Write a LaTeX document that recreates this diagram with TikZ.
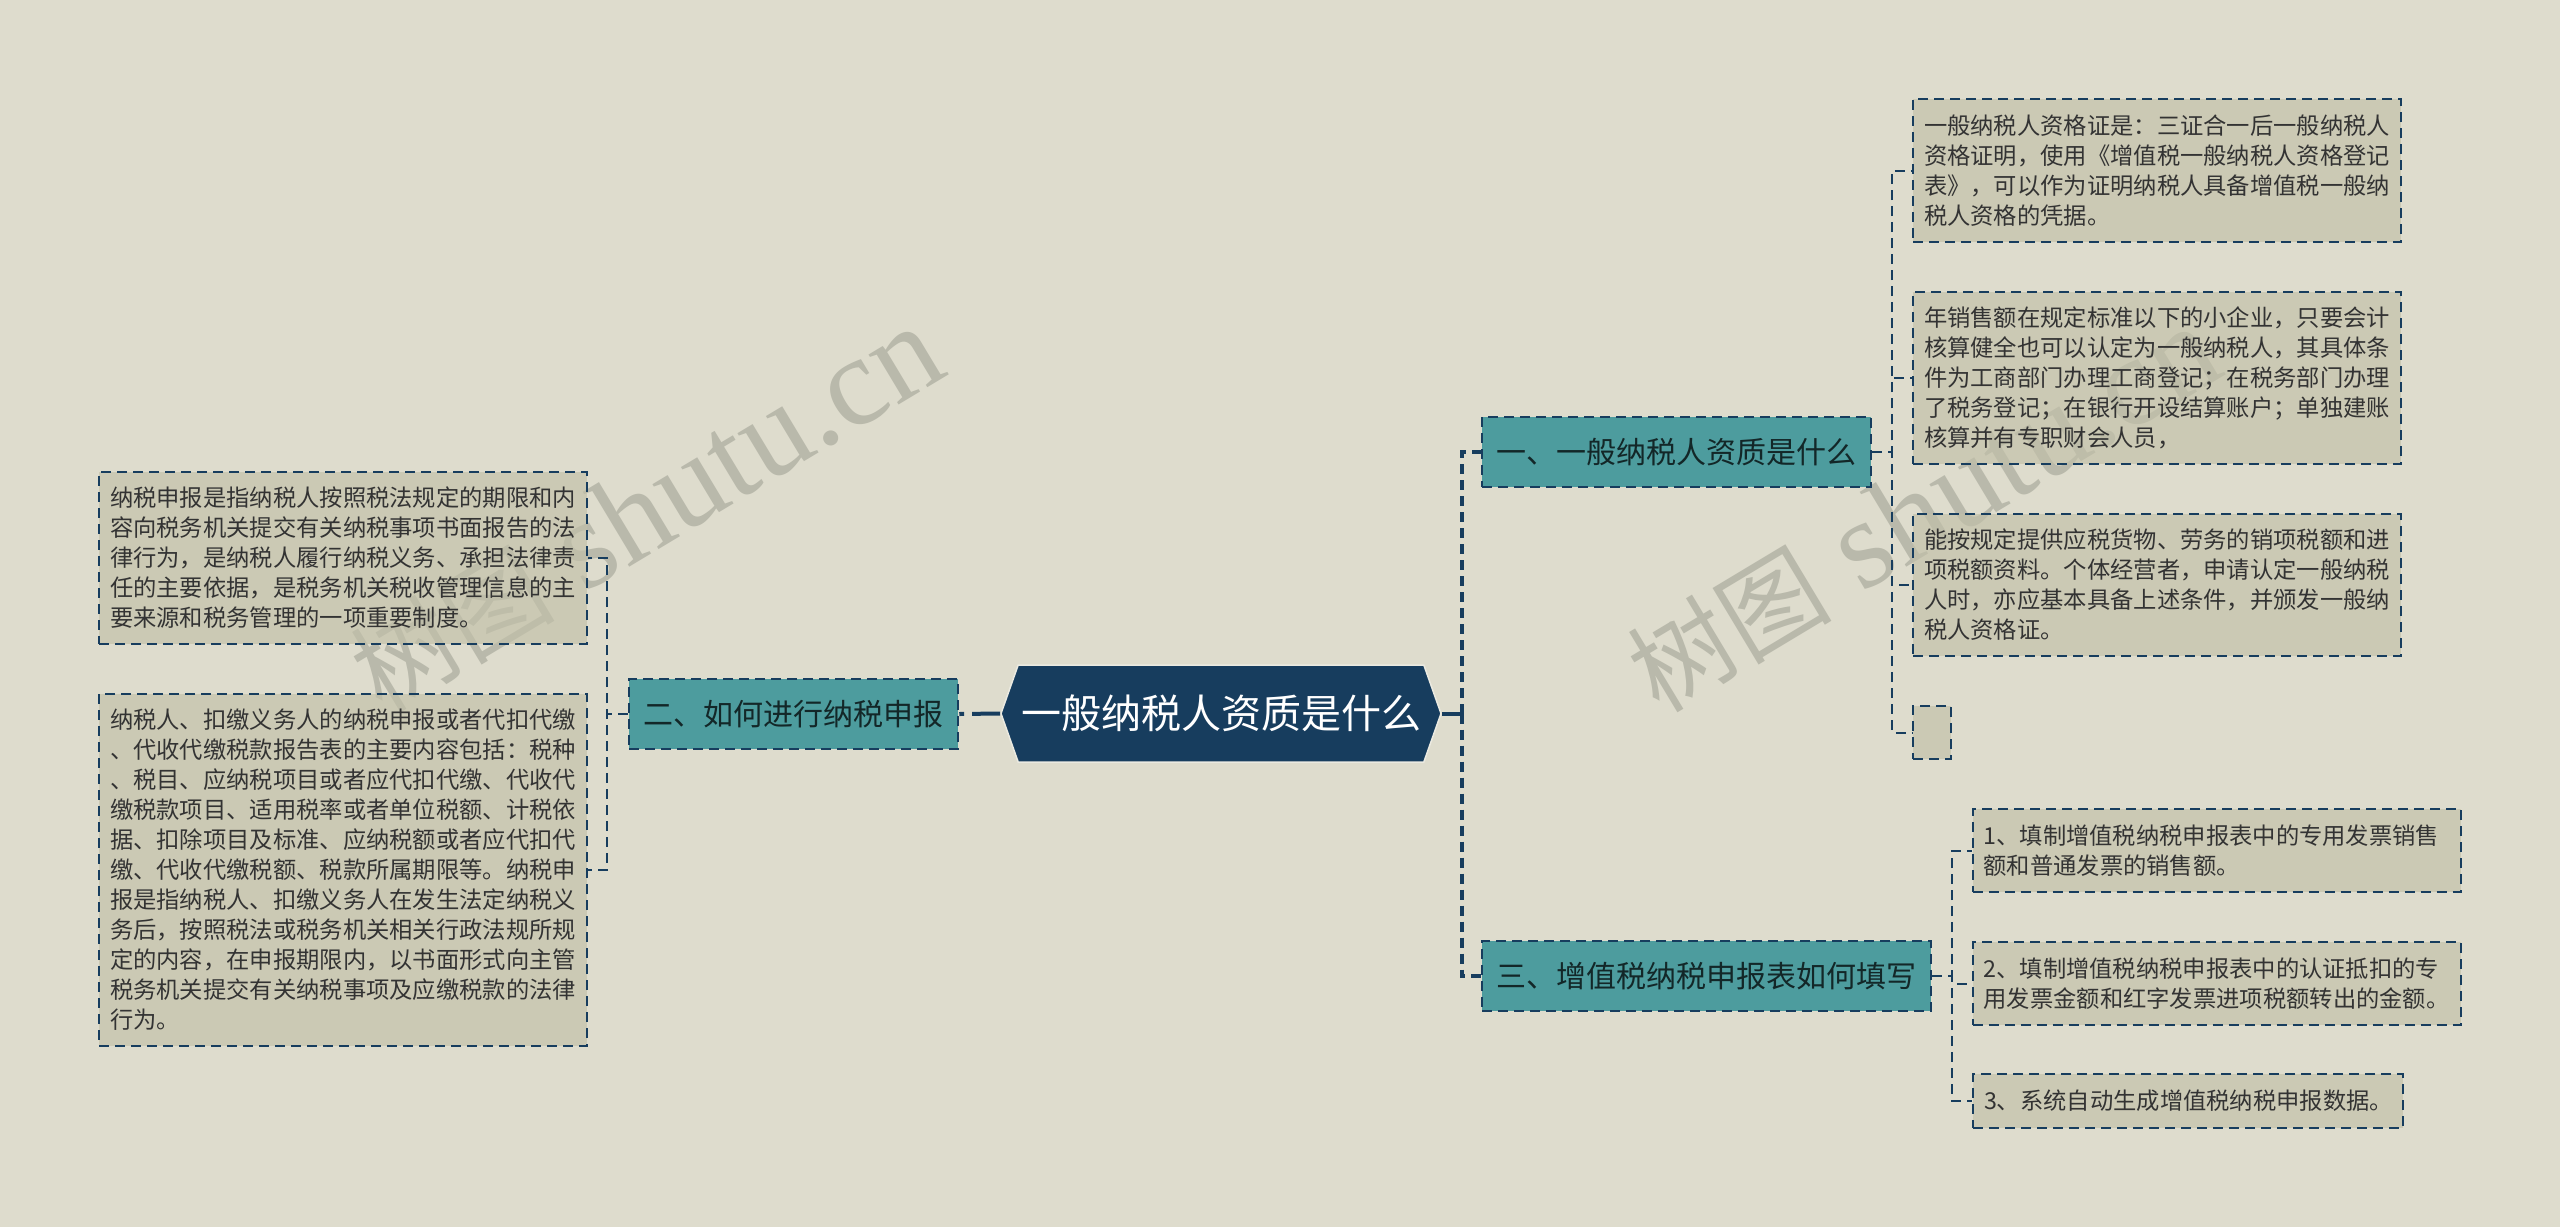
\documentclass[tikz,border=0pt]{standalone}
\usepackage{fontspec}
\setmainfont{Noto Sans CJK SC}
\newfontfamily\markfont{Liberation Serif}
\newfontfamily\markcjk{Noto Sans CJK SC}
\usetikzlibrary{positioning,shapes.symbols}
\definecolor{paper}{HTML}{DEDCCD}
\definecolor{navy}{HTML}{173D5E}
\definecolor{teal}{HTML}{4D9C9E}
\definecolor{leaffill}{HTML}{C2C0A8}
\definecolor{markgray}{HTML}{B9B9AB}
\newcommand{\marktext}{{\markcjk\fontsize{102}{120}\selectfont 树图} shutu.cn}
\begin{document}
\begin{tikzpicture}[
		x=1pt,y=-1pt,
		node distance=100pt,
		dash link/.style={dash pattern=on 10pt off 6pt},
		root node/.style={signal, signal to=west and east, signal pointer angle=141, draw=paper!60!white, line width=1.5pt, fill=navy, text=white, minimum width=440pt, minimum height=97pt, inner xsep=0pt, font=\fontsize{40}{48}\selectfont},
		topic node/.style={rectangle, draw=navy, dash link, line width=2.5pt, fill=teal, text=black!75!teal, minimum height=70pt, font=\fontsize{30}{36}\selectfont},
		leaf node/.style={rectangle, draw=navy, dash link, line width=2pt, fill=leaffill, fill opacity=.65, text opacity=1, text=black!80, inner xsep=11pt, inner ysep=0pt, text width=466pt, align=left, font=\fontsize{23.3}{30}\selectfont},
		main link/.style={draw=navy, line width=4pt},
		leaf link/.style={draw=navy, line width=2pt, dash link},
		mark node/.style={text=markgray, rotate=31, font=\markfont\fontsize{127}{130}\selectfont}
	]
		\useasboundingbox[fill=paper] (0,0) rectangle (2560,1227);

		\node[mark node] (mark1) at (646,510) {\marktext};
		\node[mark node] (mark2) at (1923,510) {\marktext};

		\node[root node] (root) at (1221,713.5) {一般纳税人资质是什么};

		\node[topic node,minimum width=389pt,right of=root,xshift=355.5pt,yshift=261.5pt] (t1) {一、一般纳税人资质是什么};
		\node[topic node,minimum width=329pt,left of=root,xshift=-327.5pt,yshift=-0.5pt] (t2) {二、如何进行纳税申报};
		\node[topic node,minimum width=449pt,right of=root,xshift=385.5pt,yshift=-262.5pt] (t3) {三、增值税纳税申报表如何填写};

		\node[leaf node,minimum height=143pt,right of=t1,xshift=380.5pt,yshift=281.5pt] (a1) {一般纳税人资格证是：三证合一后一般纳税人\\资格证明，使用《增值税一般纳税人资格登记\\表》，可以作为证明纳税人具备增值税一般纳\\税人资格的凭据。};
		\node[leaf node,minimum height=172pt,below of=a1,yshift=-107.5pt] (a2) {年销售额在规定标准以下的小企业，只要会计\\核算健全也可以认定为一般纳税人，其具体条\\件为工商部门办理工商登记；在税务部门办理\\了税务登记；在银行开设结算账户；单独建账\\核算并有专职财会人员，};
		\node[leaf node,minimum height=142pt,below of=a2,yshift=-107pt] (a3) {能按规定提供应税货物、劳务的销项税额和进\\项税额资料。个体经营者，申请认定一般纳税\\人时，亦应基本具备上述条件，并颁发一般纳\\税人资格证。};
		\node[leaf node,text width=16pt,minimum height=53pt,below of=a3,xshift=-225pt,yshift=-47.5pt] (a4) {};

		\node[leaf node,minimum height=83pt,right of=t3,xshift=410pt,yshift=125.5pt] (b1) {1、填制增值税纳税申报表中的专用发票销售\\额和普通发票的销售额。};
		\node[leaf node,minimum height=83pt,below of=b1,yshift=-33pt] (b2) {2、填制增值税纳税申报表中的认证抵扣的专\\用发票金额和红字发票进项税额转出的金额。};
		\node[leaf node,text width=408pt,minimum height=54pt,below of=b2,xshift=-28.5pt,yshift=-17.5pt] (b3) {3、系统自动生成增值税纳税申报数据。};

		\node[leaf node,minimum height=172pt,left of=t2,xshift=-350.5pt,yshift=156pt] (c1) {纳税申报是指纳税人按照税法规定的期限和内\\容向税务机关提交有关纳税事项书面报告的法\\律行为，是纳税人履行纳税义务、承担法律责\\任的主要依据，是税务机关税收管理信息的主\\要来源和税务管理的一项重要制度。};
		\node[leaf node,minimum height=352pt,below of=c1,yshift=-212pt] (c2) {纳税人、扣缴义务人的纳税申报或者代扣代缴\\、代收代缴税款报告表的主要内容包括：税种\\、税目、应纳税项目或者应代扣代缴、代收代\\缴税款项目、适用税率或者单位税额、计税依\\据、扣除项目及标准、应纳税额或者应代扣代\\缴、代收代缴税额、税款所属期限等。纳税申\\报是指纳税人、扣缴义务人在发生法定纳税义\\务后，按照税法或税务机关相关行政法规所规\\定的内容，在申报期限内，以书面形式向主管\\税务机关提交有关纳税事项及应缴税款的法律\\行为。};

		\coordinate (hub) at ([xshift=20pt]root.east);
		\draw[main link] (root.east) -- (hub);
		\draw[main link,dash pattern=on 28pt off 8pt on 6pt off 20pt] (root.west) -- (t2.east);
		\draw[main link,dash link] (hub) |- (t1.west);
		\draw[main link,dash link] (hub) |- (t3.west);

		\foreach \i in {1,...,4} {
			\draw[leaf link] (t1.east) -- ([xshift=20pt]t1.east) |- (a\i.west);
		}

		\foreach \i in {1,...,3} {
			\draw[leaf link] (t3.east) -- ([xshift=20pt]t3.east) |- (b\i.west);
		}

		\foreach \i in {1,...,2} {
			\draw[leaf link] (t2.west) -- ([xshift=-21pt]t2.west) |- (c\i.east);
		}
	\end{tikzpicture}
\end{document}
